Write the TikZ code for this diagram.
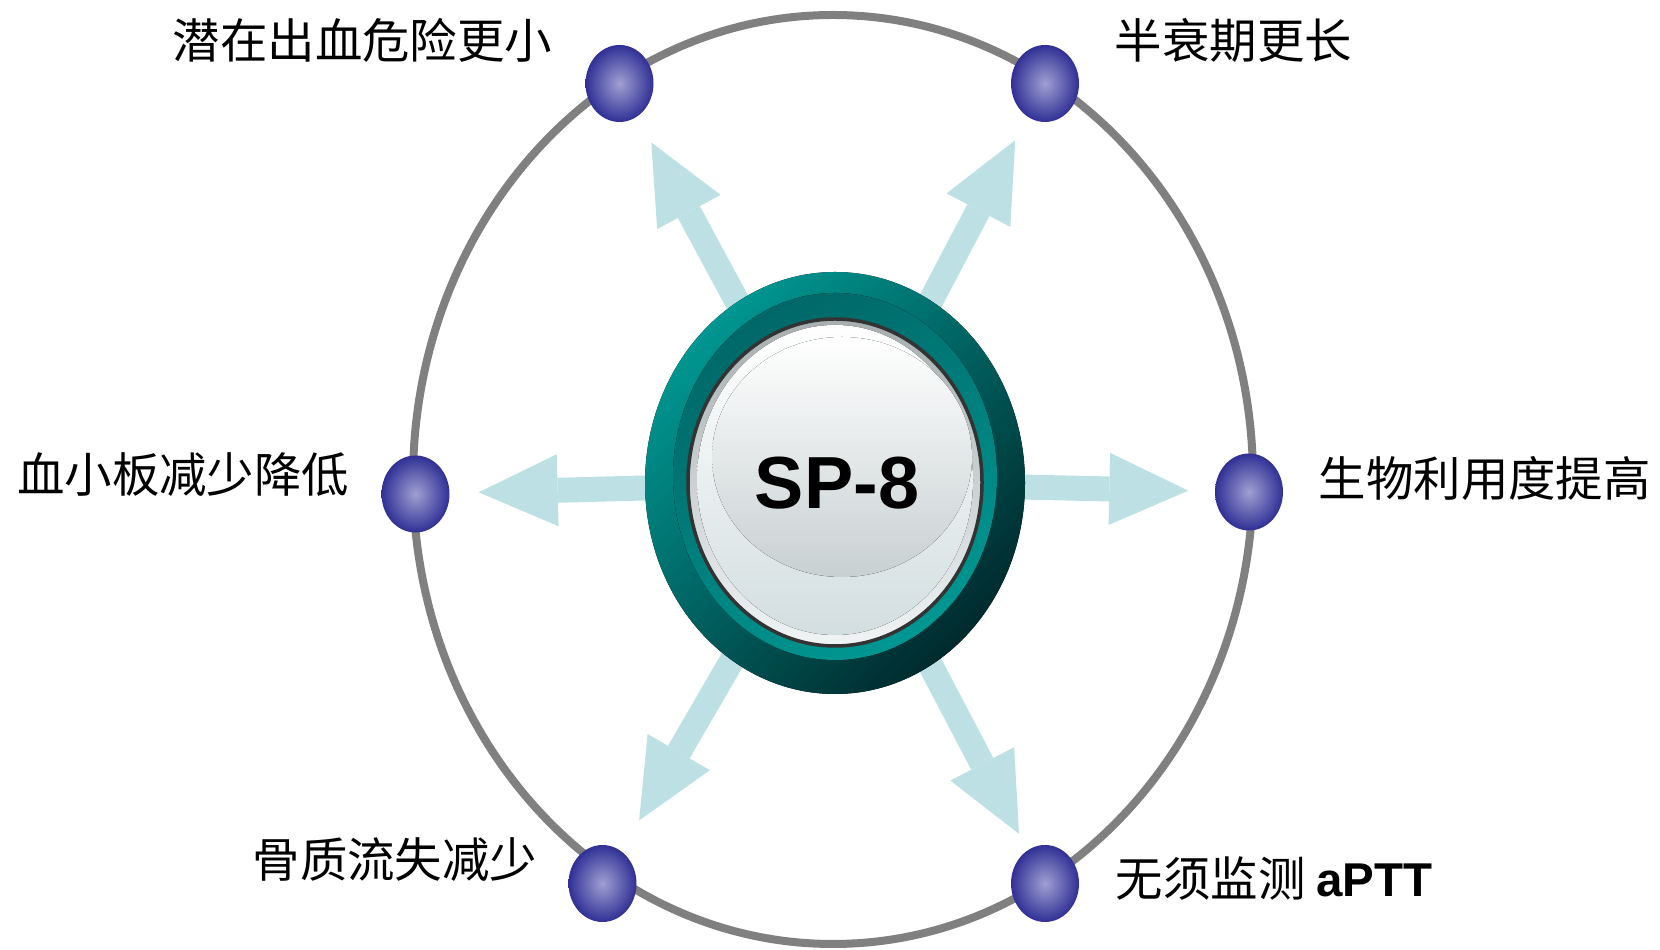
\documentclass[tikz,border=0pt]{standalone}
\usepackage{fontspec}
\setmainfont{Liberation Sans}
\newfontfamily\cjk{Noto Sans CJK SC}
\usetikzlibrary{arrows.meta,shapes.geometric}

\definecolor{orbitgray}{RGB}{128,128,128}
\definecolor{arrowblue}{RGB}{188,224,227}
\definecolor{balldark}{RGB}{48,48,150}
\definecolor{balllight}{RGB}{160,160,210}
\definecolor{teallight}{RGB}{0,150,145}
\definecolor{tealmiddle}{RGB}{0,122,120}
\definecolor{tealdark}{RGB}{0,42,45}
\definecolor{tealshade}{RGB}{0,104,104}
\definecolor{discgray}{RGB}{166,174,176}
\definecolor{discpale}{RGB}{240,244,245}
\definecolor{discblue}{RGB}{211,222,224}
\definecolor{glossgray}{RGB}{200,208,210}

\tikzset{
  ball/.style={shape=ellipse, minimum width=0.68cm, minimum height=0.77cm, inner sep=0pt, inner color=balllight, outer color=balldark},
  benefit/.style={font=\fontsize{13.5pt}{16pt}\selectfont\cjk, inner sep=0pt},
  ray/.style={color=arrowblue, line width=0.25cm, -{Triangle[length=0.79cm,width=0.72cm,line width=0pt]}, shorten >=0.27cm},
}

\begin{document}
\begin{tikzpicture}
    \useasboundingbox (0,0) rectangle (16.6,9.5);
    % orbit
    \draw[orbitgray, line width=0.08cm] (8.33,4.705) ellipse [x radius=4.20, y radius=4.645];
    % the six balls on the orbit
    \node[ball] (b1) at (6.195,8.665) {};
    \node[ball] (b2) at (10.45,8.665) {};
    \node[ball] (b3) at (4.155,4.56) {};
    \node[ball] (b4) at (12.49,4.58) {};
    \node[ball] (b5) at (6.025,0.665) {};
    \node[ball] (b6) at (10.45,0.665) {};
    % texts
    \node[benefit, anchor=east] (t1) at (5.53,9.10) {潜在出血危险更小};
    \node[benefit, anchor=west] (t2) at (11.14,9.10) {半衰期更长};
    \node[benefit, anchor=east] (t3) at (3.50,4.75) {血小板减少降低};
    \node[benefit, anchor=west] (t4) at (13.18,4.72) {生物利用度提高};
    \node[benefit, anchor=east] (t5) at (5.38,0.90) {骨质流失减少};
    \node[benefit, anchor=west] (t6) at (11.15,0.71) {无须监测 {\rmfamily\bfseries aPTT}};
    % arrows
    \coordinate (c) at (8.35,4.67);
    \path[ray] (c) edge [shorten >=0.29cm] (b1);
    \path[ray] (c) edge [shorten >=0.26cm] (b2);
    \path[ray] (c) edge [shorten >=0.285cm] (b3);
    \path[ray] (c) edge [shorten >=0.26cm] (b4);
    \path[ray] (c) edge [shorten >=0.35cm] (b5);
    \path[ray] (c) edge [shorten >=0.18cm] (b6);
    % centre disc
    \fill[top color=teallight, middle color=tealmiddle, bottom color=tealdark, shading angle=45] (8.35,4.67) ellipse [x radius=1.90, y radius=2.11];
    \fill[top color=tealshade, bottom color=teallight, shading angle=30] (8.35,4.735) ellipse [x radius=1.62, y radius=1.835];
    \draw[black!80, line width=0.035cm, top color=discgray, bottom color=discpale] (8.35,4.675) ellipse [x radius=1.47, y radius=1.635];
    \fill[top color=white, bottom color=discblue] (8.35,4.70) ellipse [x radius=1.38, y radius=1.55];
    \fill[top color=white, bottom color=glossgray] (8.42,4.93) ellipse [x radius=1.30, y radius=1.20];
    \node[font=\fontsize{21pt}{24pt}\selectfont\bfseries] (sp) at (8.37,4.67) {SP-8};
\end{tikzpicture}
\end{document}
